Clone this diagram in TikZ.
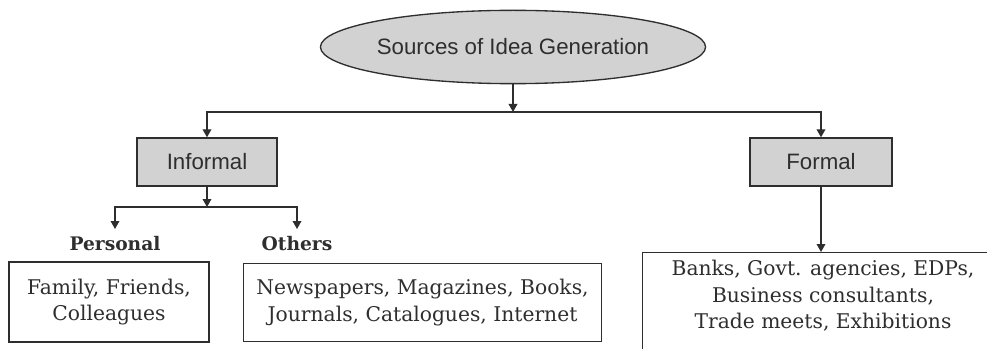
\documentclass[tikz,border=0pt]{standalone}
\usepackage{fontspec}
\usepackage{tikz}
\usepackage{xcolor}
\setmainfont{DejaVu Serif}
\setsansfont{Liberation Sans}
\usetikzlibrary{arrows.meta, shapes.geometric, calc, positioning}
\definecolor{ink}{HTML}{2E2E2E}
\definecolor{shade}{HTML}{D2D2D2}
\tikzset{
    arr/.style={-{Triangle[length=6pt,width=6.5pt]}, line width=1pt, draw=ink},
    head/.style={ellipse, draw=ink, line width=1pt, fill=shade, inner sep=0pt, minimum width=247pt, minimum height=55pt, font=\sffamily\fontsize{16.7}{20}\selectfont, text=ink},
    kind/.style={rectangle, draw=ink, line width=1pt, fill=shade, inner sep=0pt, minimum width=105pt, minimum height=36pt, font=\sffamily\fontsize{16.7}{20}\selectfont, text=ink},
    group/.style={inner sep=5pt, anchor=north, font=\bfseries\fontsize{14}{18}\selectfont, text=ink},
    srcbox/.style={rectangle, draw=ink, line width=0.9pt, inner sep=0pt, align=center, font=\fontsize{15.2}{20}\selectfont, text=ink}
}
\begin{document}
\begin{tikzpicture}[x=0.75pt, y=-0.75pt]
    \useasboundingbox (0, 0) rectangle (987, 349);
    \clip (0, 0) rectangle (987, 349);
    \node[head] (idea) at (513, 47) {Sources of Idea Generation};
    \coordinate (split) at (513, 112);
    \node[kind] (informal) at (207, 162) {Informal};
    \node[kind, minimum width=106.5pt] (formal) at (821, 162) {Formal};
    \coordinate (isplit) at (207, 207);
    \node[group] (personal) at (115, 229) {Personal};
    \node[group] (others) at (297, 229) {Others};
    \node[srcbox, minimum width=150pt, minimum height=60pt] (personal-src) at (109, 302) {Family, Friends,\\Colleagues};
    \node[srcbox, minimum width=269pt, minimum height=59pt] (others-src) at (422.5, 302.5) {Newspapers, Magazines, Books,\\Journals, Catalogues, Internet};
    \node[srcbox, anchor=north west, minimum width=300pt, minimum height=100pt] (formal-src) at (642, 252) {};
    \node[srcbox, draw=none] (formal-txt) at (823, 296) {Banks, Govt. agencies, EDPs,\\Business consultants,\\Trade meets, Exhibitions};
    % connectors
    \draw[arr] (idea) -- (split);
    \draw[arr] (split) -| (informal);
    \draw[arr] (split) -| (formal);
    \draw[arr] (informal) -- (isplit);
    \draw[arr] (isplit) -| (personal.north);
    \draw[arr] (isplit) -| (others.north);
    \draw[arr] (formal) -- (formal |- formal-src.north);
\end{tikzpicture}
\end{document}
